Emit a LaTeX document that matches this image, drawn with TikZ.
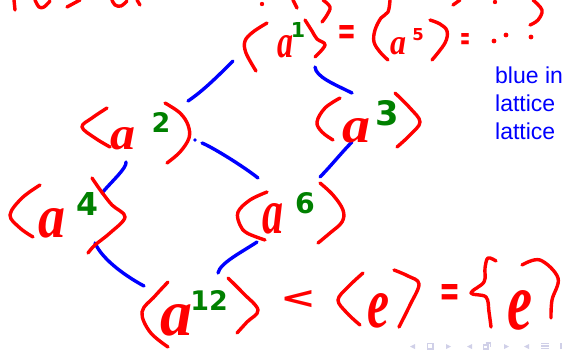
\documentclass[tikz,border=0pt]{standalone}
\usepackage{fontspec}
\usepackage{graphicx}
\usetikzlibrary{calc}
\newfontfamily\hwsans{DejaVu Sans}
\newfontfamily\hwserif{Liberation Serif}
\newfontfamily\lsans{Liberation Sans}
\definecolor{inkred}{RGB}{255,0,0}
\definecolor{inkblue}{RGB}{0,0,255}
\definecolor{inkgreen}{RGB}{0,128,0}
\definecolor{navgray}{RGB}{208,208,232}
\newcommand\hwbox[3]{\resizebox{#1}{#2}{#3}}
\newcommand\hwa{{\hwserif\bfseries\itshape a}}
\newcommand\hwe{{\hwserif\bfseries\itshape e}}
\newcommand\hwdig[2]{\resizebox{!}{#1}{\hwsans\bfseries #2}}
\newcommand\hwsym[3]{\resizebox{#1}{#2}{\hwsans\bfseries #3}}
\begin{document}
\begin{tikzpicture}[x=1pt,y=-1pt,
  redink/.style={draw=inkred,line width=3.4pt,line cap=round,line join=round},
  blueink/.style={draw=inkblue,line width=3.4pt,line cap=round,line join=round},
  grp/.style={rectangle,inner sep=0pt,outer sep=0pt,draw=none},
  lett/.style={inner sep=0pt,outer sep=0pt,anchor=north west,text=inkred},
  digit/.style={inner sep=0pt,outer sep=0pt,anchor=north,text=inkgreen},
  reddigit/.style={inner sep=0pt,outer sep=0pt,anchor=north,text=inkred},
  bluetxt/.style={inner sep=0pt,anchor=base west,text=inkblue,font=\lsans\fontsize{23}{27}\selectfont},
  navicon/.style={fill=navgray,draw=none}]
\useasboundingbox (0,0) rectangle (563,349);
\clip (0,0) rectangle (563,349);

% ---- group nodes (subgroups of the lattice)
\node[grp,minimum width=86pt,minimum height=49pt] (g1) at (284,46.5) {};
\node[grp,minimum width=110pt,minimum height=62pt] (g2) at (135,134) {};
\node[grp,minimum width=105pt,minimum height=56pt] (g3) at (367.5,120) {};
\node[grp,minimum width=119pt,minimum height=75pt] (g4) at (67.5,215.5) {};
\node[grp,minimum width=110pt,minimum height=61pt] (g6) at (292,212.5) {};
\node[grp,minimum width=124pt,minimum height=72pt] (g12) at (201,313) {};

% ---- lattice connectors
\draw[blueink] ($(g2.north east)+(-2,-2)$) .. controls +(15,-10) and +(-15,15) .. ($(g1.south west)+(-8,-10)$);
\draw[blueink] ($(g1.south east)+(-12,-4)$) .. controls +(1,10) and +(-18,-9) .. ($(g3.north west)+(37,1)$);
\draw[blueink] ($(g2.east)+(12,9)$) .. controls +(10,4) and +(-15,-12) .. ($(g6.north west)+(21,-4)$);
\fill[inkblue] ($(g2.east)+(5,6)$) circle (1.9pt);
\draw[blueink] ($(g3.south west)+(37,-6)$) .. controls +(-10,10) and +(10,-10) .. ($(g6.north east)+(-27,-5)$);
\draw[blueink] ($(g2.south west)+(46,-3)$) .. controls +(1,6) and +(10,-12) .. ($(g4.north east)+(-25,15)$);
\draw[blueink] ($(g4.south east)+(-32,-10)$) .. controls +(8,18) and +(-15,-8) .. ($(g12.north west)+(5,9)$);
\draw[blueink] ($(g6.south west)+(20,-1)$) .. controls +(-15,10) and +(2,-10) .. ($(g12.north east)+(-45,-4)$);

% ---- cut-off handwriting along the top edge
\draw[redink] (14,0) -- (15,10);
\draw[redink] plot[smooth,tension=0.6] coordinates {(35,0) (39,7) (44,7) (50,1)};
\draw[redink] (67,7) -- (80,0);
\draw[redink] plot[smooth,tension=0.6] coordinates {(112,0) (115,5) (121,6) (127,1)};
\draw[redink] (137,0) -- (140,5);
\fill[inkred] (262,4) circle (2.2pt);
\draw[redink] (293,0) -- (297,8);
\draw[redink] plot[smooth,tension=0.6] coordinates {(323,0) (330,7) (327,15) (322,22)};
\draw[redink] (453,5) -- (460,0);
\fill[inkred] (495,2) circle (2.2pt);
\draw[redink] plot[smooth,tension=0.6] coordinates {(533,0) (542,10) (538,20) (530,25)};
\fill[inkred] (531,37) circle (2.4pt);

% ---- <a^1> = <a^5> = ..
\draw[redink] plot[smooth,tension=0.6] coordinates {(267,23) (253,32) (245,41) (246,53) (256,71)};
\node[lett] (a1l) at (277,35) {\hwbox{16pt}{22pt}{\hwa}};
\node[digit] (a1d) at (298,22) {\hwdig{15pt}{1}};
\draw[redink] plot[smooth,tension=0.6] coordinates {(305,20) (312,31) (317,39) (325,45) (315,57)};
\node[lett] (eq1) at (337,25) {\hwsym{19pt}{19pt}{=}};
\draw[redink] plot[smooth,tension=0.6] coordinates {(390,0) (388,12) (381,18) (375,30) (374,42) (380,52) (388,60)};
\node[lett] (a5l) at (390,37) {\hwbox{16pt}{17pt}{\hwa}};
\node[reddigit] (a5d) at (418,28) {\hwdig{12pt}{5}};
\draw[redink] plot[smooth,tension=0.6] coordinates {(430,20) (440,24) (447,31) (445,43) (432,60)};
\node[lett] (eq2) at (460,33) {\hwsym{10pt}{16pt}{=}};
\fill[inkred] (494,41) circle (2.4pt);
\fill[inkred] (506,35) circle (2.4pt);

% ---- <a^2>
\draw[redink] plot[smooth,tension=0.6] coordinates {(107,108) (92,118) (82,127) (95,138) (110,147)};
\node[lett] (a2l) at (110,127) {\hwbox{25pt}{22pt}{\hwa}};
\node[digit] (a2d) at (161,112) {\hwdig{20pt}{2}};
\draw[redink] plot[smooth,tension=0.6] coordinates {(165,103) (180,113) (188,125) (189,138) (180,152) (167,163)};

% ---- <a^3>
\draw[redink] plot[smooth,tension=0.6] coordinates {(340,98) (325,108) (317,122) (322,132) (333,140)};
\node[lett] (a3l) at (342,118) {\hwbox{28pt}{24pt}{\hwa}};
\node[digit] (a3d) at (387,100) {\hwdig{25pt}{3}};
\draw[redink] plot[smooth,tension=0.6] coordinates {(395,93) (410,108) (420,122) (410,135) (397,147)};

% ---- <a^4>
\draw[redink] plot[smooth,tension=0.6] coordinates {(40,185) (22,198) (10,215) (20,228) (33,237)};
\node[lett] (a4l) at (38,208) {\hwbox{27pt}{29pt}{\hwa}};
\node[digit] (a4d) at (87,192) {\hwdig{23pt}{4}};
\draw[redink] plot[smooth,tension=0.6] coordinates {(92,178) (101,191) (112,205) (125,217) (110,233) (95,245) (88,253)};

% ---- <a^6>
\draw[redink] plot[smooth,tension=0.6] coordinates {(267,192) (250,200) (238,212) (240,225) (247,233) (265,240)};
\node[lett] (a6l) at (262,203) {\hwbox{21pt}{30pt}{\hwa}};
\node[digit] (a6d) at (305,192) {\hwdig{21pt}{6}};
\draw[redink] plot[smooth,tension=0.6] coordinates {(320,183) (333,195) (343,210) (342,222) (330,233) (318,243)};

% ---- <a^12> < <e> = {e}
\draw[redink] plot[smooth,tension=0.6] coordinates {(168,282) (155,296) (142,312) (150,332) (168,347)};
\node[lett] (a12l) at (160,304) {\hwbox{32pt}{31pt}{\hwa}};
\node[digit] (a12d) at (209,290) {\hwdig{20pt}{12}};
\draw[redink] plot[smooth,tension=0.6] coordinates {(228,278) (243,293) (258,310) (247,322) (237,333)};
\node[lett] (lt) at (280,290) {\hwsym{36pt}{18pt}{<}};
\draw[redink] plot[smooth,tension=0.6] coordinates {(363,273) (348,287) (338,300) (347,313) (360,325)};
\node[lett] (el) at (367,293) {\hwbox{22pt}{34pt}{\hwe}};
\draw[redink] plot[smooth,tension=0.6] coordinates {(394,270) (408,276) (419,284) (410,305) (399,327)};
\node[lett] (eq3) at (439,284) {\hwsym{21pt}{22pt}{=}};
\draw[redink] plot[smooth,tension=0.6] coordinates {(496,261) (488,258) (485,268) (484,282) (471,293) (486,297) (489,312) (491,327)};
\node[lett] (e2l) at (507,290) {\hwbox{25pt}{39pt}{\hwe}};
\draw[redink] plot[smooth,tension=0.6] coordinates {(522,265) (540,260) (558,278) (552,300) (551,318)};

% ---- blue side note (cut off at the right edge)
\node[bluetxt] (n1) at (495,83) {blue in};
\node[bluetxt] (n2) at (495,111) {lattice};
\node[bluetxt] (n3) at (495,139) {lattice};

% ---- faint navigation symbols
\fill[navicon] (415,344) -- (410,346.5) -- (415,349) -- cycle;
\draw[navgray,line width=1.2pt] (427.5,343.5) rectangle (433,349);
\fill[navicon] (446,344) -- (451,346.5) -- (446,349) -- cycle;
\fill[navicon] (472,344) -- (467,346.5) -- (472,349) -- cycle;
\draw[navgray,line width=1.2pt] (483.5,345) rectangle (488,349);
\draw[navgray,line width=1.2pt] (485.5,343) -- (490.5,343) -- (490.5,347);
\fill[navicon] (504,344) -- (509,346.5) -- (504,349) -- cycle;
\fill[navicon] (529,344) -- (524,346.5) -- (529,349) -- cycle;
\draw[navgray,line width=1.2pt] (541,343.5) -- (549,343.5) (541,346) -- (549,346) (541,348.5) -- (549,348.5);
\draw[navgray,line width=1.2pt] (561,343) -- (561,349);
\end{tikzpicture}
\end{document}
